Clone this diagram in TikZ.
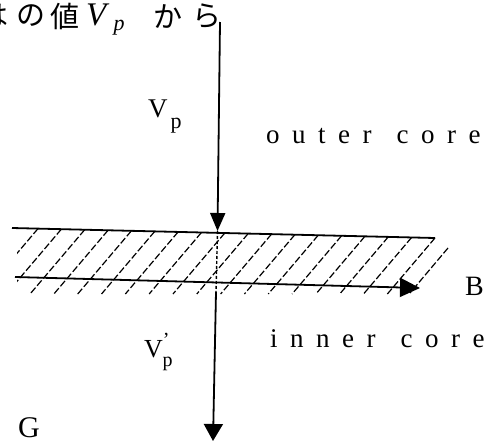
\documentclass[tikz,border=0pt]{standalone}
\usepackage{fontspec}
\setmainfont{Liberation Serif}
\newfontfamily\jafont{Noto Sans CJK JP}
\usetikzlibrary{arrows.meta}
\begin{document}
\begin{tikzpicture}[x=1pt,y=-1pt,
  ln/.style={line width=1.8pt},
  uptip/.style={-{Triangle[width=15pt,length=18pt]}},
  lowtip/.style={-{Triangle[width=19pt,length=17pt]}},
  btip/.style={-{Triangle[width=19pt,length=20pt]}},
  hatch/.style={line width=1.2pt, dash pattern=on 7pt off 2.5pt},
  lbl/.style={inner sep=0pt, font=\fontsize{30}{30}\selectfont},
  word/.style={inner sep=0pt, font=\fontsize{27}{27}\selectfont},
  ja/.style={inner sep=0pt, font=\jafont\fontsize{29}{29}\selectfont},
]
\useasboundingbox (0,0) rectangle (490,442);
\clip (0,0) rectangle (490,442);

% top sentence fragment
\node[ja] (ha) at (-6,16) {は};
\node[ja] (no) at (31,16) {の};
\node[ja] (atai) at (65,16) {値};
\node[inner sep=0pt, anchor=base west, font=\fontsize{33}{33}\selectfont] (vpa) at (86,25) {\textit{V}\kern4pt\raisebox{-5pt}{\fontsize{22}{22}\selectfont\textit{p}}};
\node[ja] (ka) at (168,16) {か};
\node[ja] (ra) at (207,16) {ら};

% vertical ray
\coordinate (ltop) at (220,22);
\coordinate (utip) at (217.5,231);
\coordinate (mdash) at (216,292);
\coordinate (ltip) at (213,441);
\draw[ln, uptip] (ltop) -- (utip);
\draw[line width=1.4pt, dash pattern=on 3pt off 2pt] (utip) -- (mdash);
\draw[ln, lowtip] (mdash) -- (ltip);

% slab
\coordinate (sTL) at (12,228);
\coordinate (sTR) at (435,238);
\coordinate (sBL) at (15,277);
\coordinate (sBR) at (420,288);
\draw[ln] (sTL) -- (sTR);
\draw[ln, btip] (sBL) -- (sBR);
\begin{scope}
  \clip (17,215) rectangle (470,300);
  \foreach \i in {0,...,17} {
    \pgfmathsetmacro\xt{38+23.35*\i}
    \pgfmathsetmacro\yt{228+(\xt-12)*10/423}
    \pgfmathsetmacro\xe{\xt-0.85*(294-\yt)}
    \draw[hatch] (\xt,\yt) -- (\xe,294);
  }
  \draw[hatch] (448,248) -- (410,293);
\end{scope}

% labels
\node[lbl, anchor=base west, font=\fontsize{28}{28}\selectfont] (B) at (465,295) {B};
\node[lbl, anchor=base west, font=\fontsize{27}{27}\selectfont] (vp) at (148,117) {V\kern3pt\raisebox{-11pt}{\fontsize{22}{22}\selectfont p}};
\node[word, anchor=base west] (outer) at (266,143) {o\kern12.5pt u\kern12.5pt t\kern12.5pt e\kern12.5pt r\kern25pt c\kern12.5pt o\kern12.5pt r\kern12.5pt e};
\node[word, anchor=base west] (inner) at (270,347) {i\kern12.5pt n\kern12.5pt n\kern12.5pt e\kern12.5pt r\kern25pt c\kern12.5pt o\kern12.5pt r\kern12.5pt e};
\node[inner sep=0pt, anchor=base west, font=\fontsize{26}{26}\selectfont] (vpp) at (144,357) {V\raisebox{11pt}{\fontsize{20}{20}\selectfont\textquoteright}\kern-7pt\raisebox{-9pt}{\fontsize{20}{20}\selectfont p}};
\node[lbl, anchor=base west] (G) at (18,437) {G};
\end{tikzpicture}
\end{document}
